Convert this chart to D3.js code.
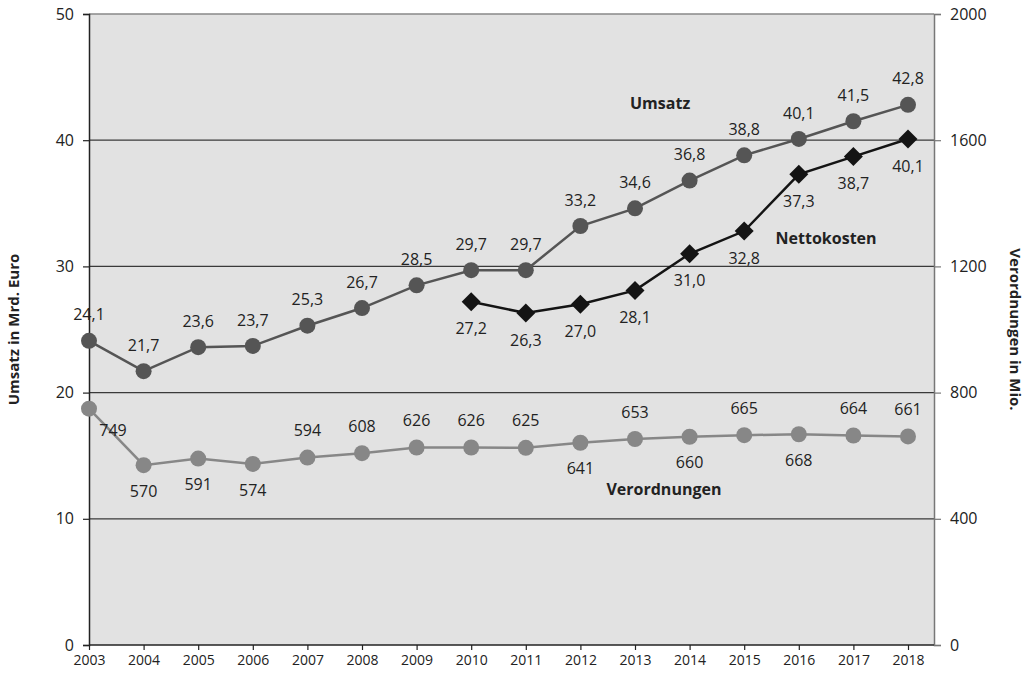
<!DOCTYPE html>
<html>
<head>
<meta charset="utf-8">
<script src="https://cdn.jsdelivr.net/npm/d3@7"></script>
<style>
  html, body { margin: 0; padding: 0; background: #fff; }
  svg { display: block; font-family: "Open Sans", "Noto Sans", sans-serif; }
</style>
</head>
<body>
<svg id="chart" width="1028" height="675"></svg>
<script>
// Jahre
const years = [2003, 2004, 2005, 2006, 2007, 2008, 2009, 2010, 2011, 2012, 2013, 2014, 2015, 2016, 2017, 2018];
// Umsatz in Mrd. Euro
const umsatz = [24.1, 21.7, 23.6, 23.7, 25.3, 26.7, 28.5, 29.7, 29.7, 33.2, 34.6, 36.8, 38.8, 40.1, 41.5, 42.8];
// Nettokosten in Mrd. Euro (ab 2010)
const nettoYears = [2010, 2011, 2012, 2013, 2014, 2015, 2016, 2017, 2018];
const netto = [27.2, 26.3, 27.0, 28.1, 31.0, 32.8, 37.3, 38.7, 40.1];
// Verordnungen in Mio.
const verordnungen = [749, 570, 591, 574, 594, 608, 626, 626, 625, 641, 653, 660, 665, 668, 664, 661];
// Achsenbeschriftungen
const leftTicks = [0, 10, 20, 30, 40, 50];
const rightTicks = [0, 400, 800, 1200, 1600, 2000];
// Lage der Werte-Beschriftungen der Verordnungen
const verordnungenLabelSide = ["right", "below", "below", "below", "above", "above", "above", "above", "above",
                               "below", "above", "below", "above", "below", "above", "above"];

const svg = d3.select("#chart");
const plotL = 89, plotR = 934, plotT = 14, plotB = 645;

const x = d3.scaleLinear().domain([2003, 2018]).range([plotL, 908]);
const yL = d3.scaleLinear().domain([0, 50]).range([plotB, plotT]);
const yR = d3.scaleLinear().domain([0, 2000]).range([plotB, plotT]);

const fmt = d => d.toFixed(1).replace(".", ",");

// Zeichenfläche
svg.append("rect")
  .attr("x", plotL).attr("y", plotT)
  .attr("width", plotR - plotL).attr("height", plotB - plotT)
  .attr("fill", "#e2e2e2");

// Gitterlinien
svg.append("g").selectAll("line")
  .data(leftTicks.filter(t => t > 0 && t < 50))
  .join("line")
  .attr("x1", plotL).attr("x2", plotR)
  .attr("y1", d => yL(d)).attr("y2", d => yL(d))
  .attr("stroke", "#3a3a3a").attr("stroke-width", 1.2);

svg.append("line")
  .attr("x1", plotL).attr("x2", plotR)
  .attr("y1", yL(50)).attr("y2", yL(50))
  .attr("stroke", "#888").attr("stroke-width", 1.5);

// Linke Achse
const gL = svg.append("g").attr("transform", `translate(${plotL},0)`)
  .call(d3.axisLeft(yL).tickValues(leftTicks).tickSize(6).tickPadding(9).tickFormat(d3.format("d")));
gL.select(".domain").attr("stroke", "#222").attr("stroke-width", 1.5);
gL.selectAll(".tick line").attr("stroke", "#222").attr("stroke-width", 1.2);
gL.selectAll("text").attr("font-size", 16).attr("fill", "#222").attr("font-family", "Open Sans");

// Rechte Achse
const gR = svg.append("g").attr("transform", `translate(${plotR},0)`)
  .call(d3.axisRight(yR).tickValues(rightTicks).tickSize(7).tickPadding(9).tickFormat(d3.format("d")));
gR.select(".domain").attr("stroke", "#777").attr("stroke-width", 1.5);
gR.selectAll(".tick line").attr("stroke", "#777").attr("stroke-width", 1.2);
gR.selectAll("text").attr("font-size", 16).attr("fill", "#222").attr("font-family", "Open Sans");

// Untere Achse
const gB = svg.append("g").attr("transform", `translate(0,${plotB})`)
  .call(d3.axisBottom(x).tickValues(years).tickSize(5).tickPadding(5).tickFormat(d3.format("d")));
gB.select(".domain").attr("d", `M${plotL},0H${plotR}`).attr("stroke", "#222").attr("stroke-width", 1.5);
gB.selectAll(".tick line").attr("stroke", "#222").attr("stroke-width", 1.2);
gB.selectAll("text").attr("font-size", 14).attr("fill", "#222").attr("font-family", "Open Sans");

// Achsentitel
svg.append("text")
  .attr("transform", `translate(19,${(plotT + plotB) / 2}) rotate(-90)`)
  .attr("text-anchor", "middle")
  .attr("font-size", 15).attr("font-weight", "bold").attr("fill", "#222")
  .text("Umsatz in Mrd. Euro");
svg.append("text")
  .attr("transform", `translate(1010,${(plotT + plotB) / 2}) rotate(90)`)
  .attr("text-anchor", "middle")
  .attr("font-size", 15).attr("font-weight", "bold").attr("fill", "#222")
  .text("Verordnungen in Mio.");

// Verordnungen
const vData = years.map((yr, i) => ({ yr, v: verordnungen[i], side: verordnungenLabelSide[i] }));
svg.append("path")
  .datum(vData)
  .attr("fill", "none").attr("stroke", "#878787").attr("stroke-width", 2.5)
  .attr("d", d3.line().x(d => x(d.yr)).y(d => yR(d.v)));
svg.append("g").selectAll("circle").data(vData).join("circle")
  .attr("cx", d => x(d.yr)).attr("cy", d => yR(d.v)).attr("r", 8)
  .attr("fill", "#878787");
svg.append("g").selectAll("text").data(vData).join("text")
  .attr("x", d => x(d.yr) + (d.side === "right" ? 24 : 0))
  .attr("y", d => yR(d.v) + (d.side === "above" ? -27 : d.side === "right" ? 22 : 26))
  .attr("dy", "0.35em")
  .attr("text-anchor", "middle")
  .attr("font-size", 16).attr("fill", "#222")
  .text(d => d.v);

// Umsatz
const uData = years.map((yr, i) => ({ yr, v: umsatz[i] }));
svg.append("path")
  .datum(uData)
  .attr("fill", "none").attr("stroke", "#555").attr("stroke-width", 2.5)
  .attr("d", d3.line().x(d => x(d.yr)).y(d => yL(d.v)));
svg.append("g").selectAll("circle").data(uData).join("circle")
  .attr("cx", d => x(d.yr)).attr("cy", d => yL(d.v)).attr("r", 8)
  .attr("fill", "#555");
svg.append("g").selectAll("text").data(uData).join("text")
  .attr("x", d => x(d.yr)).attr("y", d => yL(d.v) - 26)
  .attr("dy", "0.35em")
  .attr("text-anchor", "middle")
  .attr("font-size", 16).attr("fill", "#222")
  .text(d => fmt(d.v));

// Nettokosten
const nData = nettoYears.map((yr, i) => ({ yr, v: netto[i] }));
svg.append("path")
  .datum(nData)
  .attr("fill", "none").attr("stroke", "#141414").attr("stroke-width", 2.5)
  .attr("d", d3.line().x(d => x(d.yr)).y(d => yL(d.v)));
svg.append("g").selectAll("path").data(nData).join("path")
  .attr("transform", d => `translate(${x(d.yr)},${yL(d.v)})`)
  .attr("d", "M0,-9.5L9.5,0L0,9.5L-9.5,0Z")
  .attr("fill", "#141414");
svg.append("g").selectAll("text").data(nData).join("text")
  .attr("x", d => x(d.yr)).attr("y", d => yL(d.v) + 27)
  .attr("dy", "0.35em")
  .attr("text-anchor", "middle")
  .attr("font-size", 16).attr("fill", "#222")
  .text(d => fmt(d.v));

// Reihennamen
const seriesNames = [
  { name: "Umsatz", yr: 2013.46, v: 42.95, scale: yL },
  { name: "Nettokosten", yr: 2016.5, v: 32.25, scale: yL },
  { name: "Verordnungen", yr: 2013.53, v: 494, scale: yR }
];
svg.append("g").selectAll("text").data(seriesNames).join("text")
  .attr("x", d => x(d.yr)).attr("y", d => d.scale(d.v))
  .attr("dy", "0.35em")
  .attr("text-anchor", "middle")
  .attr("font-size", 16).attr("font-weight", "bold").attr("fill", "#222")
  .text(d => d.name);
</script>
</body>
</html>
